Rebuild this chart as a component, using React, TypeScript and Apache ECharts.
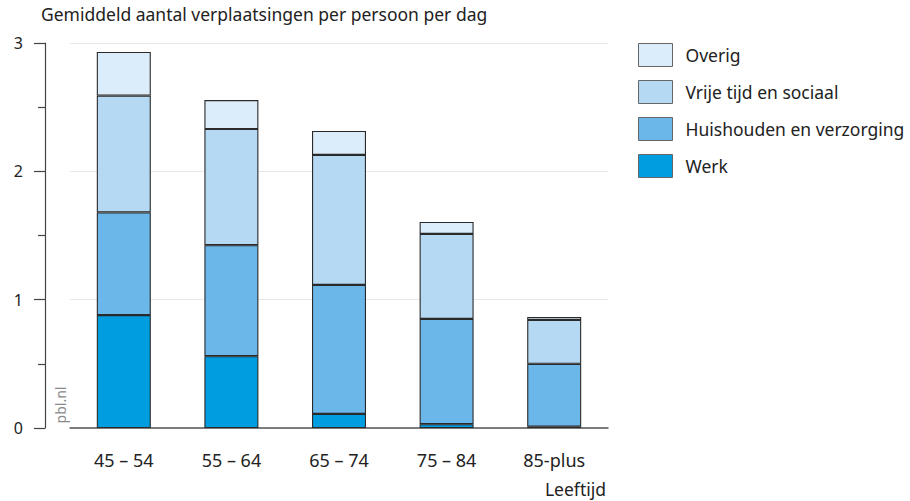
import React, { useEffect, useRef } from "react";
import * as echarts from "echarts";

const categories = ["45 – 54", "55 – 64", "65 – 74", "75 – 84", "85-plus"];
const werk = [0.88, 0.56, 0.11, 0.03, 0.01];
const huishouden = [0.8, 0.865, 1.005, 0.82, 0.49];
const vrijeTijd = [0.91, 0.905, 1.013, 0.662, 0.342];
const overig = [0.34, 0.225, 0.187, 0.094, 0.023];
const seriesNames = ["Werk", "Huishouden en verzorging", "Vrije tijd en sociaal", "Overig"];
const legendOrder = ["Overig", "Vrije tijd en sociaal", "Huishouden en verzorging", "Werk"];
const colors = ["#009ee0", "#6bb7ea", "#b5d8f3", "#dbedfa"];

const FONT = "'Noto Sans', 'Open Sans', sans-serif";

export default function App() {
  const ref = useRef<HTMLDivElement>(null);
  useEffect(() => {
    document.body.style.margin = "0";
    const chart = echarts.init(ref.current!, undefined, { renderer: "svg" });
    const values = [werk, huishouden, vrijeTijd, overig];
    chart.setOption({
      animation: false,
      textStyle: { fontFamily: FONT },
      grid: { left: 70, right: 302, top: 43, bottom: 73 },
      title: {
        text: "Gemiddeld aantal verplaatsingen per persoon per dag",
        left: 41,
        top: 5,
        padding: 0,
        textStyle: { fontFamily: FONT, fontSize: 17.5, fontWeight: "normal", color: "#222" },
      },
      legend: {
        data: legendOrder,
        orient: "vertical",
        left: 638,
        top: 43,
        padding: 0,
        itemWidth: 34,
        itemHeight: 23,
        itemGap: 13,
        icon: "rect",
        itemStyle: { borderColor: "#666", borderWidth: 1 },
        textStyle: { fontFamily: FONT, fontSize: 17.5, color: "#222", padding: [0, 0, 0, 8] },
      },
      xAxis: {
        type: "category",
        data: categories,
        axisLine: { show: true, lineStyle: { color: "#555", width: 1.5 } },
        axisTick: { show: false },
        axisLabel: { fontFamily: FONT, fontSize: 18, color: "#222", margin: 23 },
      },
      yAxis: {
        type: "value",
        min: 0,
        max: 3,
        interval: 1,
        offset: 25,
        axisLine: { show: true, lineStyle: { color: "#444", width: 1.2 } },
        axisTick: { show: true, length: 11, lineStyle: { color: "#444", width: 1.2 } },
        minorTick: { show: true, splitNumber: 2, length: 7, lineStyle: { color: "#444", width: 1.2 } },
        axisLabel: { fontFamily: FONT, fontSize: 16, color: "#222", margin: 22 },
        splitLine: { show: true, lineStyle: { color: "#e8e8e8", width: 1 } },
      },
      series: seriesNames.map((name, i) => ({
        name,
        type: "bar",
        stack: "total",
        barWidth: 54,
        data: values[i],
        itemStyle: { color: colors[i], borderColor: "#2a2a2a", borderWidth: 1.1 },
      })),
      graphic: [
        {
          type: "text",
          x: 606,
          y: 489,
          style: {
            text: "Leeftijd",
            fontFamily: FONT,
            fontSize: 17.5,
            fill: "#222",
            align: "right",
            verticalAlign: "middle",
          },
        },
        {
          type: "text",
          x: 60,
          y: 405,
          rotation: Math.PI / 2,
          style: {
            text: "pbl.nl",
            fontFamily: FONT,
            fontSize: 14,
            fill: "#8a8a8a",
            align: "center",
            verticalAlign: "middle",
          },
        },
      ],
    });
    return () => chart.dispose();
  }, []);
  return <div ref={ref} style={{ width: 910, height: 501 }} />;
}
